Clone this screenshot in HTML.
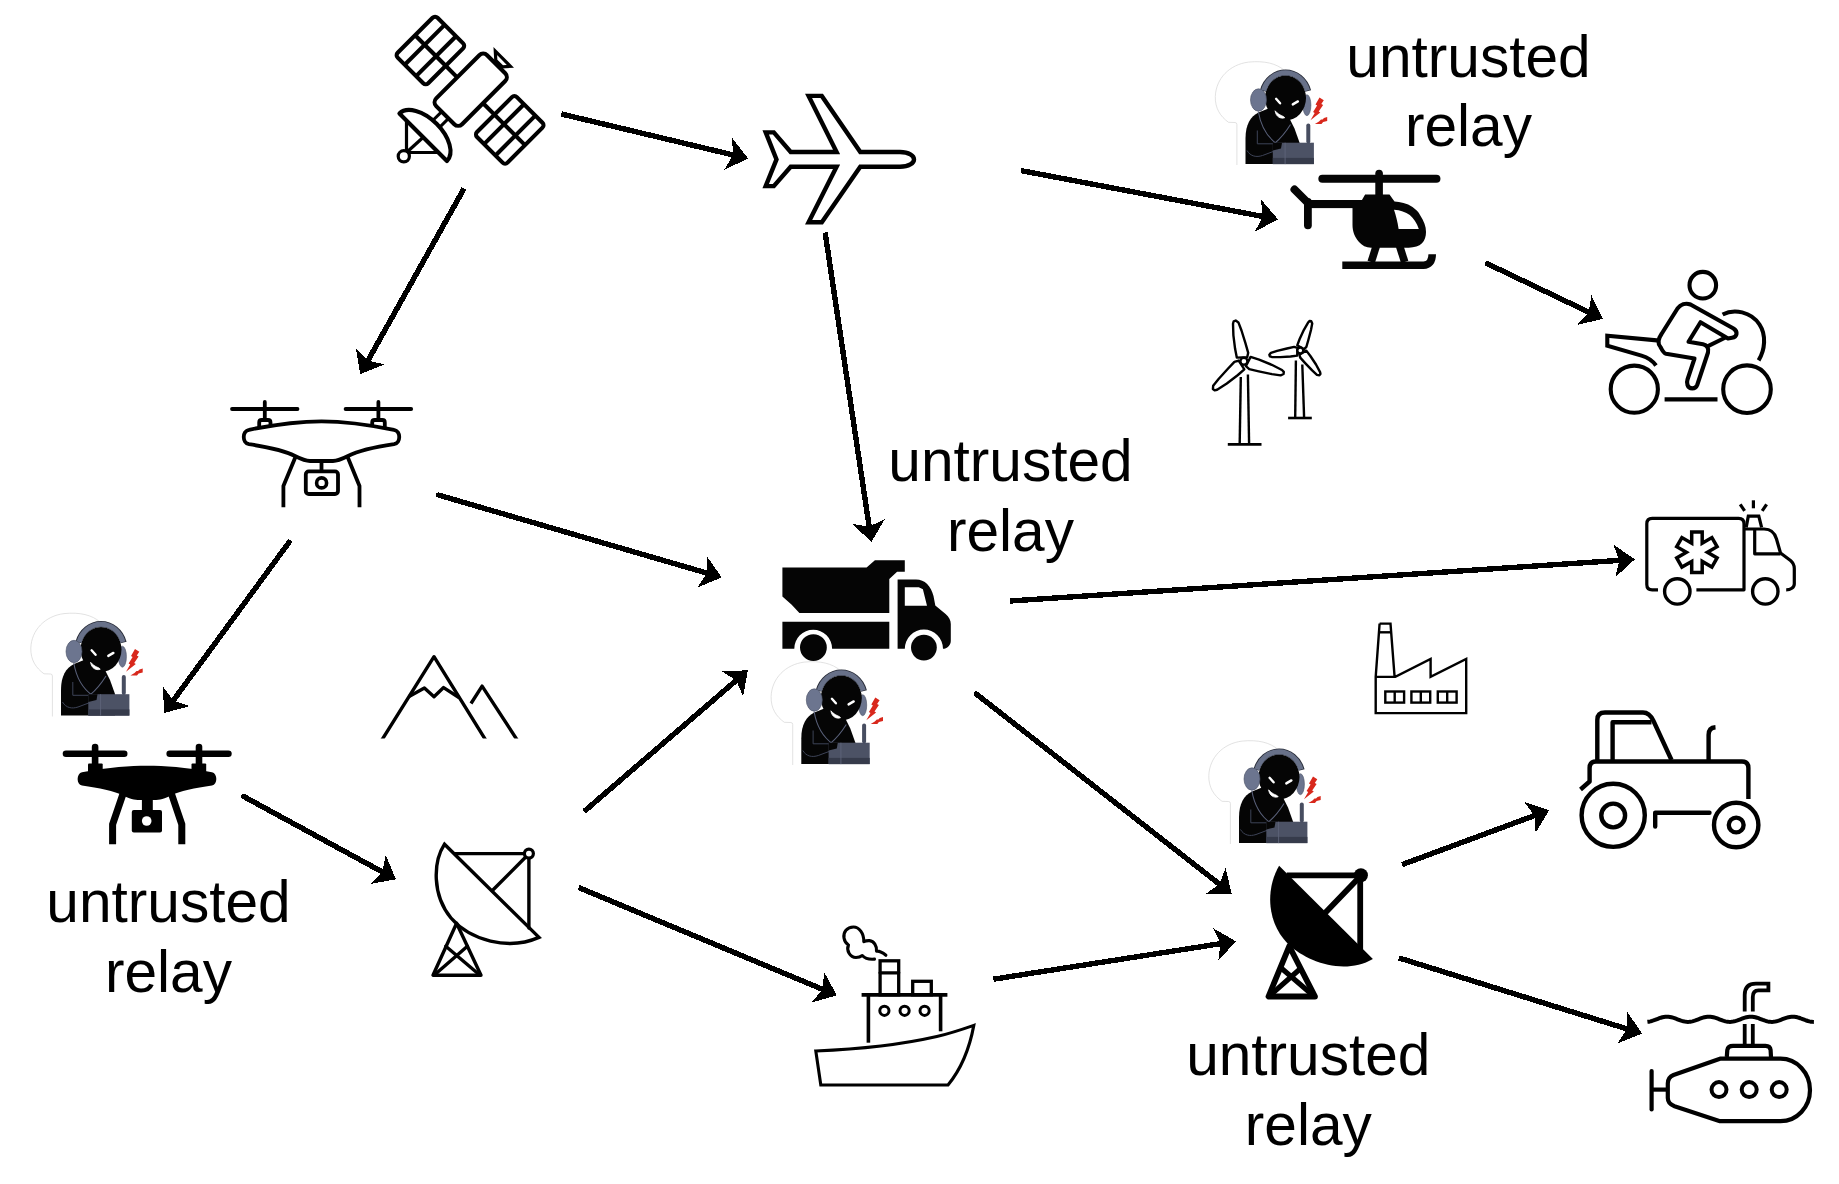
<!DOCTYPE html>
<html><head><meta charset="utf-8"><style>
html,body{margin:0;padding:0;background:#fff;}
svg{display:block;}
text{font-family:"Liberation Sans",sans-serif;font-size:58.6px;fill:#000;}
</style></head><body>
<svg width="1839" height="1184" viewBox="0 0 1839 1184">
<rect width="1839" height="1184" fill="#fff"/>
<g fill="none" stroke="#000" stroke-width="4.1" stroke-linejoin="round" stroke-linecap="butt">
<g transform="translate(470.7,89.7) rotate(45)">
<g transform="translate(-56.2,0.8)"><rect x="-21.6" y="-28.2" width="43.2" height="56.4" rx="3.5" fill="#fff"/><line x1="-8.1" y1="-28.2" x2="-8.1" y2="28.2"/><line x1="8" y1="-28.2" x2="8" y2="28.2"/><line x1="-21.6" y1="0" x2="21.6" y2="0"/></g>
<g transform="translate(56.0,0.8)"><rect x="-21.6" y="-28.2" width="43.2" height="56.4" rx="3.5" fill="#fff"/><line x1="-8.1" y1="-28.2" x2="-8.1" y2="28.2"/><line x1="8" y1="-28.2" x2="8" y2="28.2"/><line x1="-21.6" y1="0" x2="21.6" y2="0"/></g>
<line x1="-34.6" y1="0.8" x2="-18.3" y2="0.8"/><line x1="18.3" y1="0.8" x2="34.4" y2="0.8"/>
<rect x="-18.3" y="-36" width="36.6" height="72" rx="5.5" fill="#fff"/>
<line x1="-5" y1="37" x2="-5" y2="49" stroke-width="3"/><line x1="4.6" y1="37" x2="4.6" y2="49" stroke-width="3"/>
<path d="M-33.6,67.2 A33.6,19 0 0 1 33.6,67.2 Z" fill="#fff"/>
</g>
<path d="M495.3,51 L510.4,66.3 L502.4,66.8 L495.8,60.5 Z" fill="#fff" stroke-width="3.2" stroke-linejoin="miter"/>
<path d="M406.5,121 L406.5,152.5 L438.5,152.5" stroke-width="3.2"/><line x1="407" y1="152" x2="423" y2="137.5" stroke-width="3.2"/>
<circle cx="403.8" cy="156.3" r="5.6" fill="#fff" stroke-width="3.2"/>
</g>
<path d="M900,152 L860.3,152 L821.8,95.9 L808.6,95.9 L836.6,152 L790.7,152 L773.8,132.4 L765.7,132.4 L776.5,159.4 L765.7,186.1 L773.8,186.1 L790.7,166.8 L836.6,166.8 L808.6,222.2 L821.8,222.2 L860.3,166.8 L900,166.8 C909,166.8 914,163 914,159.4 C914,155.8 909,152 900,152 Z" fill="#fff" stroke="#000" stroke-width="4.4" stroke-linejoin="miter"/>
<g fill="none" stroke="#000" stroke-width="3.8" stroke-linecap="round" stroke-linejoin="round">
<line x1="232" y1="409" x2="297.5" y2="409"/><line x1="345.6" y1="409" x2="411.2" y2="409"/>
<line x1="264.8" y1="402" x2="264.8" y2="420"/><line x1="378.4" y1="402" x2="378.4" y2="420"/>
<path d="M259.2,428 L259.2,422.5 Q259.2,420 261.7,420 L268,420 Q270.5,420 270.5,422.5 L270.5,428"/>
<path d="M372.2,428 L372.2,422.5 Q372.2,420 374.7,420 L382.3,420 Q384.8,420 384.8,422.5 L384.8,428"/>
<polyline points="296.5,454.5 283.4,486 283.4,507.2" stroke-linecap="butt"/><polyline points="346.6,454.5 359.5,486 359.5,507.2" stroke-linecap="butt"/>
<path d="M249,429.8 C275,424.5 300,421.3 321.5,421.3 C343,421.3 368,424.5 394,429.8 C401,431 401,443 394,444.2 C375,447 360,450 348,456 C340,460 337,461 333,461 L310,461 C306,461 303,460 295,456 C283,450 268,447 249,444.2 C242,443 242,431 249,429.8 Z" fill="#fff"/>
<line x1="321.5" y1="461" x2="321.5" y2="471"/>
<rect x="305.8" y="471.4" width="32.2" height="22.6" rx="3" fill="#fff" stroke-width="3.8"/>
<circle cx="321.6" cy="482.9" r="5" stroke-width="3.6"/>
</g>
<g fill="#000" stroke="#000" stroke-linecap="round">
<line x1="66" y1="753.7" x2="124.2" y2="753.7" stroke-width="6.6"/><line x1="169.7" y1="753.7" x2="228.4" y2="753.7" stroke-width="6.6"/>
<line x1="95.1" y1="747" x2="95.1" y2="768" stroke-width="6.6"/><line x1="199" y1="747" x2="199" y2="768" stroke-width="6.6"/>
<rect x="88" y="763.5" width="14.7" height="10" rx="1" stroke="none"/><rect x="191.5" y="763.5" width="14.7" height="10" rx="1" stroke="none"/>
<path d="M82,772.2 C110,767 130,765.7 147,765.7 C165,765.7 185,767 212,772.2 C217.8,773.3 217.8,784.6 212,785.6 C195,788 180,791 170,796 C162,800 158,800 152,800 L142,800 C136,800 132,800 124,796 C114,791 99,788 82,785.6 C76.2,784.6 76.2,773.3 82,772.2 Z" stroke="none"/>
<rect x="141.9" y="797" width="10.9" height="13" stroke="none"/>
<rect x="131.8" y="810" width="30.2" height="22.6" rx="2" stroke="none"/>
<circle cx="146.7" cy="821" r="4.8" fill="#fff" stroke="none"/>
<polyline points="124,791 112.6,824.4 112.6,844.2" fill="none" stroke-width="7" stroke-linecap="butt"/><polyline points="170.5,791 181.8,824.4 181.8,844.2" fill="none" stroke-width="7" stroke-linecap="butt"/>
</g>
<defs><g id="hk"><path d="M52.4,716.5 L52.4,676 Q52.4,674 50.5,674 L44,673.8 C36,668 30.5,660 30.8,648 C31.5,630 45,616 64,613.6 C80,612 92,615 100,622" fill="none" stroke="#d6d6d6" stroke-width="0.7"/><path d="M61,715.6 L61,690 C61,676 66,668 74,664 L84,660 L104,668 L110,680 L115,694 L115,715.6 Z" fill="#050505"/><ellipse cx="122.4" cy="656.7" rx="4" ry="10.5" fill="#6c758f" stroke="#4a5064" stroke-width="0.6"/><ellipse cx="101" cy="649.5" rx="20.5" ry="22.5" fill="#050505"/><path d="M78.4,642.5 A23.6,25.8 0 0 1 123.6,642.5" fill="none" stroke="#2a2e3a" stroke-width="6.2"/><path d="M79,642 A23,25.2 0 0 1 123,642" fill="none" stroke="#687189" stroke-width="5"/><ellipse cx="74" cy="651.5" rx="8" ry="11.2" fill="#6c758f" stroke="#4a5064" stroke-width="0.6"/><line x1="91.6" y1="650.3" x2="95.6" y2="654.8" stroke="#fff" stroke-width="2.4" stroke-linecap="round"/><line x1="108.3" y1="655.9" x2="113.4" y2="652.9" stroke="#fff" stroke-width="2.4" stroke-linecap="round"/><path d="M90.6,662.3 C91.5,668.5 96,670.5 100.2,669.3 C99.5,667.3 95,667.5 90.6,662.3 Z" fill="#fff" stroke="#fff" stroke-width="0.8"/><path d="M73.8,663 C76,676 82,688 92.5,695.5" fill="none" stroke="#596079" stroke-width="1.1"/><path d="M106,676 C101,684 96,690 90,695" fill="none" stroke="#596079" stroke-width="1.1"/><path d="M72.8,682 L72.8,695.3 L90,695.3" fill="none" stroke="#3d4357" stroke-width="1"/><path d="M62.5,702 C66,708 72,709 78,707 L90,702.5" fill="none" stroke="#3d4357" stroke-width="1"/><rect x="88.3" y="694.2" width="41.1" height="21.4" fill="#4c5265"/><rect x="88.3" y="709.4" width="41.1" height="6.2" fill="#363b4b"/><line x1="100.6" y1="694.2" x2="100.6" y2="715.6" stroke="#5d6479" stroke-width="0.9"/><polygon points="88.3,694.2 97.5,694.2 96.5,700 88.3,702" fill="#050505"/><rect x="121.8" y="674.9" width="4" height="20" rx="2" fill="#474d60"/><polygon points="135,649 139.3,651.8 136.8,655.5 138.6,656.6 134.2,663 135.8,664 126,671.8 130.2,664.5 128.6,663.6 132.6,657 131,656" fill="#d8281c"/><polygon points="142.7,668.6 142.7,672.6 138.6,673.4 137,675.4 130.4,675.5 134.5,673 136.5,671 138,671 139.5,669.6" fill="#d8281c"/></g></defs>
<use href="#hk"/>
<use href="#hk" transform="translate(1184.5,-551.5)"/>
<use href="#hk" transform="translate(740.3,48.5)"/>
<use href="#hk" transform="translate(1178,127.5)"/>
<clipPath id="mclip"><rect x="350" y="640" width="200" height="98.6"/></clipPath>
<g fill="none" stroke="#000" stroke-width="3.4" stroke-linejoin="round" clip-path="url(#mclip)">
<polyline points="380.3,742.5 434,656.7 487.2,742.5"/>
<polyline points="408.6,696.8 424.4,688.1 434,696.8 443.6,687.6 459.3,697.8"/>
<polyline points="471,703.5 482.1,686.1 518.8,742.5"/>
</g>
<g fill="none" stroke="#000" stroke-width="3.4" stroke-linejoin="round" stroke-linecap="round">
<path d="M444.5,844.2 C433,862 432,895 451,918 C470,940 508,951 539,937.4 Z" fill="#fff" stroke-linejoin="miter"/>
<line x1="454.5" y1="853.6" x2="524" y2="853.6"/>
<line x1="528.9" y1="858.5" x2="528.9" y2="928"/>
<line x1="492.4" y1="890.5" x2="525.5" y2="857.2"/>
<circle cx="528.9" cy="853.6" r="4.5" fill="#fff" stroke-width="3.2"/>
<path d="M456.6,923.2 L433,975.3 L481,975.3 Z"/>
<line x1="445.8" y1="946.2" x2="478.5" y2="974"/><line x1="467.4" y1="946.2" x2="435.5" y2="974"/>
</g>
<g fill="none" stroke="#000" stroke-width="5.8" stroke-linejoin="round" stroke-linecap="round">
<path d="M1279.1,865.8 C1266,888 1266,922 1288,944 C1308,963 1345,975 1372.9,958.9 Z" fill="#000" stroke="none"/>
<line x1="1286.7" y1="875.3" x2="1359" y2="875.3" stroke-linecap="butt"/>
<circle cx="1360.9" cy="875.3" r="7" fill="#000" stroke="none"/>
<line x1="1360.2" y1="876" x2="1360.2" y2="950" stroke-linecap="butt"/>
<line x1="1326" y1="912" x2="1357.7" y2="879"/>
<path d="M1289.3,946.2 L1268.5,996.5 L1315,996.5 Z"/>
<line x1="1282.3" y1="969" x2="1312" y2="994.5" stroke-width="5.2"/><line x1="1300" y1="969" x2="1271" y2="994.5" stroke-width="5.2"/>
</g>
<g fill="#050505">
<polygon points="782.4,567.6 866.6,567.6 874.9,560.3 904.8,560.3 904.8,571.7 897.1,571.7 889.3,578.9 889.3,613 799.4,613 791.7,604.8 782.4,596.5"/>
<path d="M782.4,621.8 L889.3,621.8 L889.3,648.7 L832.1,648.7 A18.9,18.9 0 0 0 794.3,648.7 L782.4,648.7 Z"/>
<path d="M897.6,579.4 L916,579.4 C925,579.4 931,586 933.5,596 L935.3,605.5 L945.6,614 C949,617 950.8,620 950.8,624 L950.8,640.9 C950.8,645 947,648.7 943,648.7 A19.1,19.1 0 0 0 904.8,648.7 L897.6,648.7 Z M904.8,587.2 L918.8,587.2 L922.9,589.3 L927,605.8 L904.8,605.8 Z" fill-rule="evenodd"/>
<circle cx="813.4" cy="647.6" r="13.4"/><circle cx="923.9" cy="647.6" r="12.9"/>
</g>
<g fill="none" stroke="#000" stroke-width="3.1" stroke-linejoin="round" stroke-linecap="round">
<path d="M885.9,955.3 C882,952 878.5,951 876.5,951.2 C877,946 874,941 869.5,940.6 C867,940.5 865,941 863.8,941.6 C864,933 859,927 853.5,927 C847,927 843,932 844,938 C844.5,941 846,943.5 848.5,945 C846,950.5 850,957.5 856,957.5 C859,957.5 861,956.5 862.3,955.5 C865,958.5 870,959.5 874.5,959.1"/>
<rect x="880.1" y="960.8" width="18.6" height="34" stroke-linejoin="miter" stroke-width="3.3"/>
<line x1="880.1" y1="972.8" x2="898.7" y2="972.8" stroke-width="3.3"/>
<rect x="912.7" y="981.3" width="18.6" height="13.5" stroke-linejoin="miter" stroke-width="3.3"/>
<line x1="861.6" y1="994.8" x2="947.4" y2="994.8" stroke-width="3.8" stroke-linecap="butt"/>
<line x1="868.4" y1="995" x2="868.4" y2="1042.7" stroke-width="3.6" stroke-linecap="butt"/>
<line x1="940.6" y1="995" x2="940.6" y2="1031.3" stroke-width="3.6" stroke-linecap="butt"/>
<circle cx="884.4" cy="1010.8" r="4.6" stroke-width="3"/>
<circle cx="904.6" cy="1010.8" r="4.6" stroke-width="3"/>
<circle cx="924.6" cy="1010.8" r="4.6" stroke-width="3"/>
<path d="M815.8,1051 C855,1049.5 900,1045 936.8,1036.6 C950,1033.5 962,1029.5 973.8,1025.4 C970,1046 962,1068 948,1085 L820.8,1085 Z" fill="#fff" stroke-linejoin="miter"/>
</g>
<g fill="none" stroke="#000" stroke-width="3.2" stroke-linejoin="round" stroke-linecap="butt">
<path d="M1658,589.8 L1652.2,589.8 Q1646.8,589.8 1646.8,584.4 L1646.8,523.7 Q1646.8,518.3 1652.2,518.3 L1738.6,518.3 Q1744,518.3 1744,523.7 L1744,589.8 L1696.4,589.8"/>
<path d="M1744,529 L1764,529 C1771,529 1775,533.5 1776.5,539 L1780.5,553 L1790.5,560.5 C1793.2,562.8 1794.3,565 1794.3,568.5 L1794.3,584 C1794.3,587.5 1790.5,589.8 1786.2,589.8" stroke-linejoin="round"/>
<path d="M1754.7,530 L1754.7,553.8 L1780.5,553.8"/>
<path d="M1746.2,527.4 L1748.3,516.1 L1758.8,516.1 L1761.6,527.4" stroke-linejoin="miter"/>
<line x1="1753.4" y1="500.3" x2="1753.4" y2="508.3"/><line x1="1740.2" y1="504.3" x2="1744.6" y2="510.8"/><line x1="1766.6" y1="504.3" x2="1762.2" y2="510.8"/>
<circle cx="1677.3" cy="591.4" r="12.7" stroke-width="3.4"/><circle cx="1765.3" cy="591.4" r="12.7" stroke-width="3.4"/>
<polygon points="1691.7,532.0 1702.2,532.0 1702.2,543.2 1711.9,537.6 1717.1,546.7 1707.4,552.3 1717.1,557.9 1711.9,567.0 1702.2,561.4 1702.2,572.6 1691.7,572.6 1691.7,561.4 1681.9,567.0 1676.7,557.9 1686.4,552.3 1676.7,546.7 1681.9,537.6 1691.7,543.2" stroke-width="3.5" stroke-linejoin="miter"/>
</g>
<g fill="none" stroke="#000" stroke-width="2.4" stroke-linejoin="miter" stroke-linecap="butt">
<path d="M1379.6,623.6 L1390.5,623.6 L1394.6,676.9 M1379.6,623.6 L1375.7,676.9 L1375.7,713.1 L1466.2,713.1 L1466.2,659 L1430.6,676.9 L1430.6,659 L1395.3,676.9 L1375.7,676.9"/>
<line x1="1378.8" y1="632.3" x2="1391.2" y2="632.3"/>
<rect x="1385.3" y="691.5" width="18.8" height="11.1"/><line x1="1394.7" y1="691.5" x2="1394.7" y2="702.6"/>
<rect x="1411.4" y="691.5" width="18.8" height="11.1"/><line x1="1420.8" y1="691.5" x2="1420.8" y2="702.6"/>
<rect x="1437.8" y="691.5" width="18.8" height="11.1"/><line x1="1447.2" y1="691.5" x2="1447.2" y2="702.6"/>
</g>
<g fill="none" stroke="#000" stroke-width="4.4" stroke-linejoin="round" stroke-linecap="butt">
<circle cx="1613.2" cy="815.3" r="31.6"/><circle cx="1613.2" cy="815.5" r="11.9"/>
<circle cx="1736.2" cy="825" r="22.2"/><circle cx="1736.2" cy="825" r="7.4"/>
<path d="M1580.5,789.5 L1589.6,781.5 L1589.6,768 Q1589.6,761.5 1596,761.5 L1742,761.5 Q1748.4,761.5 1748.4,768 L1748.4,799"/>
<path d="M1597.3,760 L1597.3,720 Q1597.3,712.5 1605,712.5 L1643,712.5 Q1649.5,712.5 1653.5,721 L1671.5,760"/>
<path d="M1612.6,760 L1612.6,722.3 L1651.5,722.3"/>
<path d="M1708.6,760 L1708.6,735 Q1708.6,727.8 1715.5,727.3"/>
<path d="M1655.2,826.5 L1655.2,812.8 L1709.5,812.8" stroke-linecap="round"/>
</g>
<g fill="none" stroke="#000" stroke-width="4.2" stroke-linejoin="round" stroke-linecap="butt">
<polyline points="1647.4,1021.85 1648.9,1021.67 1650.4,1021.37 1651.9,1020.96 1653.4,1020.47 1654.9,1019.93 1656.4,1019.35 1657.9,1018.77 1659.4,1018.21 1660.9,1017.71 1662.4,1017.29 1663.9,1016.98 1665.4,1016.77 1666.9,1016.70 1668.4,1016.76 1669.9,1016.94 1671.4,1017.25 1672.9,1017.65 1674.4,1018.14 1675.9,1018.69 1677.4,1019.27 1678.9,1019.85 1680.4,1020.40 1681.9,1020.90 1683.4,1021.32 1684.9,1021.63 1686.4,1021.83 1687.9,1021.90 1689.4,1021.84 1690.9,1021.65 1692.4,1021.34 1693.9,1020.93 1695.4,1020.44 1696.9,1019.89 1698.4,1019.31 1699.9,1018.73 1701.4,1018.18 1702.9,1017.68 1704.4,1017.27 1705.9,1016.96 1707.4,1016.77 1708.9,1016.70 1710.4,1016.77 1711.9,1016.96 1713.4,1017.27 1714.9,1017.68 1716.4,1018.18 1717.9,1018.73 1719.4,1019.31 1720.9,1019.89 1722.4,1020.44 1723.9,1020.93 1725.4,1021.34 1726.9,1021.65 1728.4,1021.84 1729.9,1021.90 1731.4,1021.83 1732.9,1021.63 1734.4,1021.32 1735.9,1020.90 1737.4,1020.40 1738.9,1019.85 1740.4,1019.27 1741.9,1018.69 1743.4,1018.14 1744.9,1017.65 1746.4,1017.25 1747.9,1016.94 1749.4,1016.76 1750.9,1016.70 1752.4,1016.77 1753.9,1016.98 1755.4,1017.29 1756.9,1017.71 1758.4,1018.21 1759.9,1018.77 1761.4,1019.35 1762.9,1019.93 1764.4,1020.47 1765.9,1020.96 1767.4,1021.37 1768.9,1021.67 1770.4,1021.85 1771.9,1021.90 1773.4,1021.82 1774.9,1021.62 1776.4,1021.29 1777.9,1020.87 1779.4,1020.37 1780.9,1019.81 1782.4,1019.23 1783.9,1018.65 1785.4,1018.11 1786.9,1017.62 1788.4,1017.22 1789.9,1016.93 1791.4,1016.75 1792.9,1016.70 1794.4,1016.78 1795.9,1016.99 1797.4,1017.32 1798.9,1017.75 1800.4,1018.25 1801.9,1018.81 1803.4,1019.39 1804.9,1019.97 1806.4,1020.51 1807.9,1020.99 1809.4,1021.39 1810.9,1021.68 1812.4,1021.85 1813.9,1021.90" stroke-width="4"/>
<path d="M1744.7,1011.5 L1744.7,995 Q1744.7,983.6 1756,983.6 L1768.4,983.6 L1768.4,990.4 L1758.5,990.4 Q1752.8,990.4 1752.8,997 L1752.8,1011.5" stroke-width="3.8" stroke-linejoin="miter"/>
<path d="M1744.7,1024 L1744.7,1046 M1752.8,1024 L1752.8,1046" stroke-width="3.8"/>
<path d="M1726.8,1057 L1727.3,1050 Q1728,1045.8 1733,1045.8 L1765.5,1045.8 Q1770.2,1045.8 1770.6,1050 L1771,1057"/>
<path d="M1720,1058.7 L1780.5,1058.7 C1797,1058.7 1810,1073 1810,1090 C1810,1107 1797,1121.2 1780.5,1121.2 L1720,1121.2 L1674.5,1106.2 C1670,1104.5 1667.8,1101.5 1667.8,1098 L1667.8,1083.5 C1667.8,1079.5 1670,1076.5 1673.5,1075 Z" fill="#fff"/>
<line x1="1651.6" y1="1071" x2="1651.6" y2="1109.5" stroke-linecap="round"/><line x1="1651.6" y1="1089.6" x2="1667.8" y2="1089.6"/>
<circle cx="1719" cy="1089.6" r="7.5" stroke-width="4"/>
<circle cx="1749.2" cy="1089.6" r="7.5" stroke-width="4"/>
<circle cx="1779.2" cy="1089.6" r="7.5" stroke-width="4"/>
</g>
<g fill="none" stroke="#000" stroke-width="4.1" stroke-linejoin="round" stroke-linecap="butt">
<circle cx="1702.8" cy="285.2" r="13.3"/>
<circle cx="1634.3" cy="389.2" r="23.6"/><circle cx="1747" cy="389.2" r="23.8"/>
<line x1="1664.6" y1="399.4" x2="1717.5" y2="399.4"/>
<path d="M1659.5,340.6 L1607.3,335.8 L1607.3,345.8 L1641.5,355.6 C1648,357.5 1652.5,360.5 1656,365.5" stroke-linejoin="miter"/>
<path d="M1722.6,314.5 C1734,308.5 1751,311.5 1759.5,324.5 C1766.5,335 1765,350 1758.6,360.3"/>
<path d="M1660.5,347 C1657,343 1658,339 1661.5,334 L1677.5,308.5 C1680.5,304.5 1685.5,302.5 1690.5,304.5 L1733.5,328.5 C1738,331.5 1737.5,337 1732,337.8 L1728,338.5 L1700.5,322.2 L1688.5,341.8 L1703,344.2 C1707,345 1709,348.5 1708,352.5 L1697.2,385 C1695.5,389.5 1689,389.5 1687.5,385 C1686.8,383 1687,381 1687.5,379.5 L1694.5,358.5 L1666,353.8 C1663.5,353.2 1662,350 1660.5,347 Z"/>
<line x1="1706.5" y1="346.8" x2="1725.5" y2="337.5"/>
</g>
<g fill="#fff" stroke="#000" stroke-width="2.4" stroke-linejoin="round" stroke-linecap="butt">
<line x1="1240.8" y1="377" x2="1239.7" y2="443.6" fill="none"/><line x1="1247.9" y1="374.5" x2="1249.1" y2="443.6" fill="none"/>
<line x1="1227.8" y1="444.4" x2="1261.5" y2="444.4" stroke-width="2.6"/>
<path d="M1236.80,357.60 L1235.10,348.80 L1233.40,335.30 L1233.00,323.80 L1233.70,321.30 L1235.70,320.50 L1238.40,322.40 L1241.50,330.50 L1245.50,343.40 L1248.20,352.80 L1247.20,357.20 Z"/>
<path d="M1250.59,356.90 L1259.10,359.69 L1271.72,364.77 L1281.97,370.01 L1283.81,371.84 L1283.54,373.98 L1280.56,375.41 L1271.98,374.18 L1258.76,371.40 L1249.24,369.19 L1245.88,366.18 Z"/>
<path d="M1244.32,369.30 L1237.60,375.23 L1226.83,383.54 L1217.12,389.72 L1214.61,390.39 L1212.91,389.07 L1213.17,385.78 L1218.58,379.00 L1227.66,369.01 L1234.39,361.91 L1238.69,360.54 Z"/>
<circle cx="1243.9" cy="361.3" r="3.5"/>
<line x1="1295.9" y1="360.5" x2="1295.2" y2="417.5" fill="none"/><line x1="1302.3" y1="364.5" x2="1304.1" y2="417.5" fill="none"/>
<line x1="1288.1" y1="418" x2="1311.8" y2="418" stroke-width="2.6"/>
<path d="M1297.25,345.33 L1299.65,339.05 L1303.92,329.78 L1308.22,322.30 L1309.66,320.99 L1311.25,321.27 L1312.22,323.55 L1310.98,329.94 L1308.41,339.74 L1306.41,346.79 L1304.03,349.20 Z"/>
<path d="M1306.30,350.63 L1310.37,355.98 L1316.00,364.49 L1320.09,372.09 L1320.45,374.01 L1319.37,375.21 L1316.92,374.83 L1312.15,370.41 L1305.17,363.07 L1300.23,357.64 L1299.44,354.35 Z"/>
<path d="M1297.21,355.65 L1290.54,356.52 L1280.36,357.17 L1271.73,356.94 L1269.89,356.30 L1269.38,354.77 L1270.93,352.84 L1277.13,350.89 L1286.97,348.48 L1294.13,346.89 L1297.38,347.84 Z"/>
<circle cx="1300.3" cy="350.5" r="3"/>
</g>
<g fill="#050505" stroke="#050505" stroke-linecap="round" stroke-linejoin="round">
<line x1="1322.4" y1="178.8" x2="1436.4" y2="178.8" stroke-width="8.1"/>
<line x1="1379.1" y1="173.5" x2="1379.1" y2="197" stroke-width="7.6"/>
<line x1="1294.5" y1="189.5" x2="1307" y2="202" stroke-width="8"/>
<line x1="1307.9" y1="202" x2="1307.9" y2="225.3" stroke-width="7.8"/>
<rect x="1307.5" y="200" width="55" height="8.1" stroke="none"/>
<path d="M1365.1,194.5 L1389.5,194.5 L1394.5,201.6 C1400,201.8 1407,203.5 1412.5,207 C1416,209.5 1418.5,212 1420,215 C1424,221 1426,226.5 1426,232 C1426,236.5 1424.8,240.5 1422,243.3 C1419,246.2 1414.5,247.7 1408.7,247.7 L1371.2,247.7 C1366,247.7 1362,245.5 1359,242 C1354.5,237 1352.5,231 1352.5,225 L1352.5,207.6 L1362.1,199.8 Z" stroke="none"/>
<path d="M1394,209.7 C1400.5,210 1405.5,212 1409.8,215 C1413.5,218.5 1417,223 1418.8,228.9 L1398.6,228.9 C1397.6,222 1396,215.5 1394,209.7 Z" fill="#fff" stroke="none"/>
<line x1="1376.3" y1="246" x2="1371.2" y2="262" stroke-width="7.6" stroke-linecap="butt"/>
<line x1="1399.6" y1="246" x2="1404.7" y2="262" stroke-width="7.6" stroke-linecap="butt"/>
<path d="M1342.3,265.2 L1423.5,265.2 C1429,265.2 1432.2,261.5 1432.2,254.3" fill="none" stroke-width="7.6" stroke-linecap="butt" stroke-linejoin="miter"/>
</g>

<g shape-rendering="crispEdges"><line x1="561.4" y1="114.0" x2="735.9" y2="155.6" stroke="#000" stroke-width="5.4" stroke-linecap="butt"/><polygon points="748.1,158.5 724.3,169.8 733.0,154.9 732.0,137.7" fill="#000"/>
<line x1="464.1" y1="188.4" x2="366.4" y2="363.3" stroke="#000" stroke-width="5.4" stroke-linecap="butt"/><polygon points="360.3,374.2 355.9,348.3 367.9,360.7 384.7,364.4" fill="#000"/>
<line x1="1021.0" y1="170.6" x2="1265.7" y2="217.0" stroke="#000" stroke-width="5.4" stroke-linecap="butt"/><polygon points="1278.0,219.3 1254.8,231.7 1262.8,216.4 1260.9,199.3" fill="#000"/>
<line x1="825.1" y1="232.5" x2="869.6" y2="529.4" stroke="#000" stroke-width="5.4" stroke-linecap="butt"/><polygon points="871.5,541.8 852.1,524.0 869.2,526.5 884.8,519.1" fill="#000"/>
<line x1="1487.6" y1="263.8" x2="1591.5" y2="313.5" stroke="#000" stroke-width="5.4" stroke-linecap="round"/><polygon points="1602.8,318.9 1577.2,324.9 1588.8,312.2 1591.4,295.2" fill="#000"/>
<line x1="290.4" y1="540.4" x2="171.5" y2="702.9" stroke="#000" stroke-width="5.4" stroke-linecap="butt"/><polygon points="164.1,713.0 162.9,686.7 173.3,700.5 189.5,706.2" fill="#000"/>
<line x1="438.6" y1="495.1" x2="709.7" y2="573.9" stroke="#000" stroke-width="5.4" stroke-linecap="round"/><polygon points="721.7,577.4 697.4,587.5 706.8,573.1 706.6,555.8" fill="#000"/>
<line x1="1010.2" y1="601.0" x2="1622.3" y2="560.2" stroke="#000" stroke-width="5.4" stroke-linecap="butt"/><polygon points="1634.8,559.4 1615.4,577.2 1619.3,560.4 1613.2,544.3" fill="#000"/>
<line x1="243.7" y1="796.5" x2="384.9" y2="873.3" stroke="#000" stroke-width="5.4" stroke-linecap="round"/><polygon points="395.9,879.3 370.0,884.0 382.3,871.9 385.8,855.0" fill="#000"/>
<line x1="584.2" y1="811.4" x2="738.4" y2="678.5" stroke="#000" stroke-width="5.4" stroke-linecap="butt"/><polygon points="747.9,670.3 743.1,696.2 736.2,680.4 721.6,671.2" fill="#000"/>
<line x1="578.6" y1="887.5" x2="825.3" y2="990.5" stroke="#000" stroke-width="5.4" stroke-linecap="butt"/><polygon points="836.8,995.3 811.5,1002.6 822.5,989.3 824.2,972.2" fill="#000"/>
<line x1="976.3" y1="694.0" x2="1221.8" y2="886.0" stroke="#000" stroke-width="5.4" stroke-linecap="round"/><polygon points="1231.6,893.7 1205.3,894.1 1219.4,884.1 1225.6,868.1" fill="#000"/>
<line x1="993.4" y1="979.2" x2="1223.5" y2="943.2" stroke="#000" stroke-width="5.4" stroke-linecap="butt"/><polygon points="1235.9,941.3 1218.2,960.8 1220.6,943.7 1213.1,928.2" fill="#000"/>
<line x1="1402.1" y1="864.6" x2="1537.4" y2="814.5" stroke="#000" stroke-width="5.4" stroke-linecap="butt"/><polygon points="1549.1,810.2 1535.6,832.8 1534.6,815.6 1524.1,801.8" fill="#000"/>
<line x1="1398.8" y1="957.9" x2="1630.1" y2="1029.9" stroke="#000" stroke-width="5.4" stroke-linecap="butt"/><polygon points="1642.0,1033.6 1617.5,1043.3 1627.2,1029.0 1627.3,1011.8" fill="#000"/></g>
<text x="1468.5" y="77" text-anchor="middle">untrusted</text><text x="1468.5" y="146" text-anchor="middle">relay</text>
<text x="1010.5" y="481" text-anchor="middle">untrusted</text><text x="1010.5" y="550.5" text-anchor="middle">relay</text>
<text x="168.5" y="922" text-anchor="middle">untrusted</text><text x="168.5" y="991.5" text-anchor="middle">relay</text>
<text x="1308.3" y="1075" text-anchor="middle">untrusted</text><text x="1308.3" y="1145" text-anchor="middle">relay</text>

</svg>
</body></html>
